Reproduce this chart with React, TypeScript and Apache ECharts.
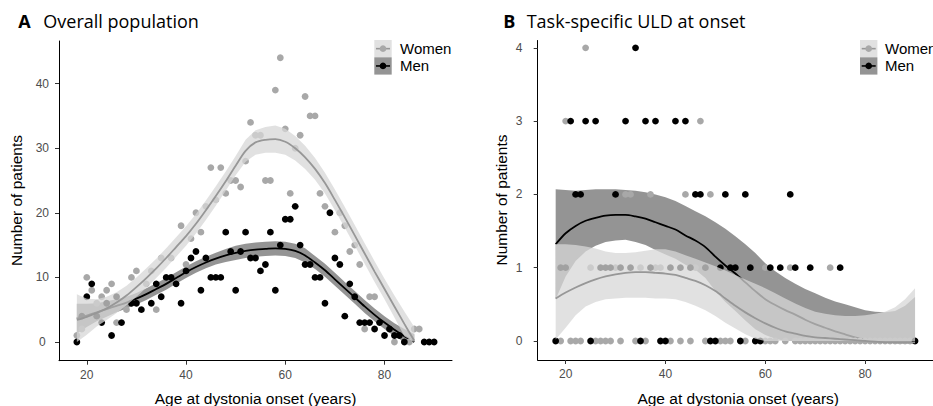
import React, { useEffect, useRef } from 'react';
import * as echarts from 'echarts';

// ---------- Panel A data ----------
const xTicks = [20, 40, 60, 80];
const yTicksA = [0, 10, 20, 30, 40];
const yTicksB = [0, 1, 2, 3, 4];

const womenA: [number, number][] = [
  [18, 1], [19, 2], [20, 10], [21, 8], [22, 6], [23, 7], [24, 8], [25, 9], [26, 3], [28, 5],
  [29, 10], [30, 11], [32, 9], [33, 11], [34, 5], [35, 13], [37, 13], [39, 18], [40, 12], [41, 16],
  [42, 20], [43, 17], [44, 21], [45, 27], [46, 22], [47, 27], [48, 23], [49, 25], [50, 25], [51, 24],
  [52, 28], [53, 34], [54, 32], [55, 32], [56, 25], [57, 25], [58, 39], [59, 44], [60, 33], [61, 23],
  [62, 30], [63, 32], [64, 38], [65, 35], [66, 35], [67, 23], [68, 21], [70, 17], [71, 20], [72, 18],
  [73, 14], [74, 15], [75, 12], [76, 2], [77, 7], [78, 7], [82, 0], [85, 0], [86, 2], [87, 2],
];

const menA: [number, number][] = [
  [18, 0], [19, 4], [20, 7], [21, 9], [22, 4], [23, 3], [24, 6], [25, 1], [26, 7], [27, 3],
  [29, 6], [30, 6], [31, 5], [33, 6], [34, 9], [35, 7], [36, 10], [37, 10], [38, 9], [39, 6],
  [40, 11], [41, 13], [42, 14], [43, 8], [44, 13], [45, 10], [46, 10], [47, 10], [48, 17], [49, 14],
  [50, 8], [51, 14], [52, 17], [53, 13], [54, 13], [55, 11], [56, 12], [57, 17], [58, 8], [59, 15],
  [60, 19], [61, 19], [62, 21], [63, 15], [64, 12], [65, 12], [66, 10], [67, 10], [68, 6], [69, 20],
  [70, 13], [71, 12], [72, 4], [73, 9], [74, 7], [75, 3], [76, 3], [77, 3], [78, 2], [79, 3],
  [80, 1], [81, 2], [82, 1], [83, 1], [84, 0], [88, 0], [89, 0], [90, 0],
];

const fitAgesA = [18, 20, 22, 24, 26, 28, 30, 32, 34, 36, 38, 40, 42, 44, 46, 48, 50, 52, 54, 56,
  58, 60, 62, 64, 66, 68, 70, 72, 74, 76, 78, 80, 82, 84, 86];
const womenFitA = [3.4, 3.9, 4.5, 5.2, 6.1, 7.2, 8.5, 9.9, 11.4, 13.0, 14.7, 16.4, 18.3, 20.4, 22.6, 24.9, 27.3, 29.6, 30.9, 31.3,
  31.4, 31.0, 30.0, 28.6, 26.8, 24.6, 22.0, 19.3, 16.5, 13.7, 10.9, 8.2, 5.5, 2.8, 0.2];
const womenUpperA = [7.4, 6.7, 6.6, 7.0, 7.7, 8.7, 10.0, 11.4, 12.9, 14.5, 16.2, 17.9, 19.8, 21.9, 24.1, 26.4, 28.8, 31.3, 32.8, 33.3,
  33.5, 33.0, 31.9, 30.4, 28.5, 26.2, 23.6, 20.9, 18.1, 15.3, 12.5, 9.8, 7.2, 4.7, 2.3];
const womenLowerA = [0, 1.1, 2.4, 3.4, 4.5, 5.7, 7.0, 8.4, 9.9, 11.5, 13.2, 14.9, 16.8, 18.9, 21.1, 23.4, 25.8, 27.9, 29.0, 29.3,
  29.3, 29.0, 28.1, 26.8, 25.1, 23.0, 20.4, 17.7, 14.9, 12.1, 9.3, 6.6, 3.8, 0.9, 0];
const menFitA = [3.6, 4.1, 4.6, 5.1, 5.6, 6.1, 6.7, 7.4, 8.2, 9.0, 9.9, 10.8, 11.6, 12.3, 12.9, 13.4, 13.8, 14.1, 14.3, 14.4,
  14.5, 14.4, 14.1, 13.4, 12.3, 11.1, 9.7, 8.3, 6.9, 5.5, 4.2, 3.0, 1.9, 0.9, 0];
const menUpperA = [5.9, 5.9, 6.0, 6.3, 6.6, 7.0, 7.6, 8.3, 9.1, 9.9, 10.8, 11.7, 12.5, 13.2, 13.8, 14.4, 14.9, 15.2, 15.4, 15.5,
  15.6, 15.5, 15.2, 14.5, 13.3, 12.1, 10.7, 9.3, 7.9, 6.5, 5.2, 4.0, 2.9, 2.0, 1.2];
const menLowerA = [1.3, 2.3, 3.2, 3.9, 4.6, 5.2, 5.8, 6.5, 7.3, 8.1, 9.0, 9.9, 10.7, 11.4, 12.0, 12.4, 12.7, 13.0, 13.2, 13.3,
  13.4, 13.3, 13.0, 12.3, 11.3, 10.1, 8.7, 7.3, 5.9, 4.5, 3.2, 2.0, 0.9, 0, 0];

// ---------- Panel B data ----------
const womenB: [number, number][] = [
  [24, 4],
  [20, 3], [47, 3],
  [32, 2], [33, 2], [37, 2], [44, 2], [49, 2],
  [25, 1], [30, 1], [35, 1], [38, 1], [39, 1], [46, 1], [60, 1], [65, 1], [73, 1],
  [19, 0], [21, 0], [22, 0], [23, 0], [26, 0], [27, 0], [28, 0], [29, 0], [31, 0], [34, 0], [36, 0],
  [41, 0], [43, 0], [45, 0], [48, 0], [51, 0], [52, 0], [53, 0], [56, 0], [60, 0], [61, 0], [62, 0],
  [64, 0], [66, 0], [67, 0], [68, 0], [69, 0], [70, 0], [71, 0], [72, 0], [73, 0], [74, 0], [75, 0],
  [76, 0], [77, 0], [78, 0], [79, 0], [80, 0], [81, 0], [82, 0], [83, 0], [84, 0], [85, 0], [86, 0],
  [87, 0], [88, 0], [89, 0],
];

const menB: [number, number][] = [
  [34, 4],
  [21, 3], [24, 3], [26, 3], [32, 3], [36, 3], [38, 3], [42, 3], [44, 3],
  [22, 2], [23, 2], [30, 2], [46, 2], [47, 2], [52, 2], [56, 2], [65, 2],
  [19, 1], [20, 1], [27, 1], [28, 1], [29, 1], [31, 1], [33, 1], [37, 1], [41, 1], [43, 1], [45, 1],
  [48, 1], [51, 1], [53, 1], [54, 1], [57, 1], [61, 1], [63, 1], [66, 1], [69, 1], [75, 1],
  [18, 0], [25, 0], [35, 0], [39, 0], [40, 0], [49, 0], [50, 0], [55, 0], [58, 0], [59, 0], [90, 0],
];

const fitAgesB = [18, 20, 22, 24, 26, 28, 30, 32, 34, 36, 38, 40, 42, 44, 46, 48, 50, 52, 54, 56,
  58, 60, 62, 64, 66, 68, 70, 72, 74, 76, 78, 80, 82, 84, 86, 88, 90];
const menFitB = [1.32, 1.47, 1.57, 1.64, 1.68, 1.71, 1.72, 1.72, 1.70, 1.67, 1.62, 1.57, 1.52, 1.44, 1.37, 1.28, 1.15, 1.03, 0.92, 0.80,
  0.68, 0.57, 0.49, 0.42, 0.36, 0.29, 0.23, 0.18, 0.13, 0.09, 0.05, 0.02, 0.00, -0.01, -0.02, -0.02, -0.02];
const menUpperB = [2.07, 2.06, 2.05, 2.06, 2.07, 2.07, 2.07, 2.06, 2.05, 2.03, 2.00, 1.96, 1.91, 1.84, 1.77, 1.70, 1.62, 1.53, 1.43, 1.32,
  1.20, 1.06, 0.95, 0.86, 0.78, 0.71, 0.65, 0.59, 0.54, 0.50, 0.46, 0.42, 0.40, 0.39, 0.41, 0.48, 0.60];
const menLowerB = [0.57, 0.88, 1.09, 1.22, 1.30, 1.35, 1.37, 1.38, 1.35, 1.31, 1.24, 1.18, 1.12, 1.04, 0.97, 0.86, 0.68, 0.53, 0.41, 0.28,
  0.16, 0.08, 0.03, 0, 0, 0, 0, 0, 0, 0, 0, 0, 0, 0, 0, 0, 0];
const womenFitB = [0.58, 0.66, 0.73, 0.79, 0.84, 0.88, 0.91, 0.93, 0.94, 0.94, 0.93, 0.92, 0.90, 0.86, 0.82, 0.76, 0.68, 0.58, 0.48, 0.39,
  0.31, 0.24, 0.18, 0.13, 0.10, 0.07, 0.05, 0.04, 0.03, 0.02, 0.01, 0.00, -0.01, -0.02, -0.02, -0.02, -0.02];
const womenUpperB = [1.32, 1.32, 1.31, 1.29, 1.26, 1.22, 1.20, 1.20, 1.21, 1.23, 1.25, 1.25, 1.22, 1.17, 1.12, 1.07, 1.02, 0.96, 0.90, 0.84,
  0.78, 0.72, 0.65, 0.58, 0.51, 0.45, 0.40, 0.37, 0.35, 0.34, 0.34, 0.35, 0.37, 0.40, 0.46, 0.57, 0.72];
const womenLowerB = [0.02, 0.18, 0.35, 0.47, 0.53, 0.57, 0.58, 0.59, 0.59, 0.59, 0.58, 0.58, 0.57, 0.53, 0.48, 0.42, 0.34, 0.25, 0.17, 0.09,
  0.03, 0, 0, 0, 0, 0, 0, 0, 0, 0, 0, 0, 0, 0, 0, 0, 0];

// ---------- styling ----------
const FONT = '"Liberation Sans", Arial, sans-serif';
const TITLE_FONT = '"Open Sans", sans-serif';
const WOMEN_POINT = '#a8a8a8';
const WOMEN_LINE = '#979797';
const WOMEN_BAND = 'rgba(215,215,215,0.75)';
const MEN_BAND = 'rgba(0,0,0,0.42)';

function band(gi: number, ages: number[], upper: number[], lower: number[], fill: string, z: number) {
  return {
    type: 'custom',
    xAxisIndex: gi,
    yAxisIndex: gi,
    z,
    silent: true,
    clip: true,
    data: [[ages[0], lower[0]]],
    renderItem: (_params: any, api: any) => {
      const pts: number[][] = [];
      for (let i = 0; i < ages.length; i++) pts.push(api.coord([ages[i], upper[i]]));
      for (let i = ages.length - 1; i >= 0; i--) pts.push(api.coord([ages[i], lower[i]]));
      return { type: 'polygon', shape: { points: pts }, style: { fill } };
    },
  };
}

function fitLine(gi: number, ages: number[], vals: number[], color: string, z: number) {
  return {
    type: 'line',
    xAxisIndex: gi,
    yAxisIndex: gi,
    z,
    silent: true,
    showSymbol: false,
    smooth: 0.3,
    clip: true,
    data: ages.map((a, i) => [a, vals[i]]),
    lineStyle: { color, width: 1.8 },
  };
}

function points(gi: number, data: [number, number][], color: string, z: number) {
  return {
    type: 'scatter',
    xAxisIndex: gi,
    yAxisIndex: gi,
    z,
    silent: true,
    symbolSize: 6.8,
    data,
    itemStyle: { color, opacity: 1 },
  };
}

function xAxis(gi: number) {
  return {
    type: 'value',
    gridIndex: gi,
    min: 14.4,
    max: 93.6,
    axisLine: { show: true, onZero: false, lineStyle: { color: '#000', width: 1 } },
    axisTick: { show: true, length: 4, lineStyle: { color: '#333', width: 1 }, customValues: xTicks },
    axisLabel: { show: true, customValues: xTicks, color: '#4d4d4d', fontSize: 12, fontFamily: FONT, margin: 8 },
    splitLine: { show: false },
  };
}

function yAxis(gi: number, min: number, max: number, ticks: number[], margin: number) {
  return {
    type: 'value',
    gridIndex: gi,
    min,
    max,
    axisLine: { show: true, onZero: false, lineStyle: { color: '#000', width: 1 } },
    axisTick: { show: true, length: 4, lineStyle: { color: '#333', width: 1 }, customValues: ticks },
    axisLabel: { show: true, customValues: ticks, color: '#4d4d4d', fontSize: 12, fontFamily: FONT, margin, align: 'center' },
    splitLine: { show: false },
  };
}

function legend(keyX: number, textX: number) {
  const w = 17.4;
  const h = 17.3;
  const y1 = 40;
  const y2 = 57.3;
  const els: any[] = [
    { type: 'rect', shape: { x: keyX, y: y1, width: w, height: h }, style: { fill: '#e1e1e1' } },
    { type: 'line', shape: { x1: keyX + 1.7, y1: y1 + h / 2, x2: keyX + w - 1.7, y2: y1 + h / 2 }, style: { stroke: WOMEN_LINE, lineWidth: 1.6 } },
    { type: 'circle', shape: { cx: keyX + w / 2, cy: y1 + h / 2, r: 3.3 }, style: { fill: WOMEN_POINT } },
    { type: 'rect', shape: { x: keyX, y: y2, width: w, height: h }, style: { fill: '#949494' } },
    { type: 'line', shape: { x1: keyX + 1.7, y1: y2 + h / 2, x2: keyX + w - 1.7, y2: y2 + h / 2 }, style: { stroke: '#000', lineWidth: 1.6 } },
    { type: 'circle', shape: { cx: keyX + w / 2, cy: y2 + h / 2, r: 3.3 }, style: { fill: '#000' } },
    { type: 'text', x: textX, y: y1 + h / 2, style: { text: 'Women', fontSize: 15, fontFamily: FONT, fill: '#000', align: 'left', verticalAlign: 'middle' } },
    { type: 'text', x: textX, y: y2 + h / 2, style: { text: 'Men', fontSize: 15, fontFamily: FONT, fill: '#000', align: 'left', verticalAlign: 'middle' } },
  ];
  return els;
}

function txt(x: number, y: number, text: string, opts: any = {}) {
  return {
    type: 'text',
    x,
    y,
    rotation: opts.rotation || 0,
    style: {
      text,
      fontSize: opts.fontSize || 15.5,
      fontFamily: opts.fontFamily || FONT,
      fontWeight: opts.fontWeight || 'normal',
      fill: '#000',
      align: opts.align || 'center',
      verticalAlign: 'middle',
    },
  };
}

export default function App() {
  const ref = useRef<HTMLDivElement>(null);
  useEffect(() => {
    if (!ref.current) return;
    const chart = echarts.init(ref.current, undefined, { renderer: 'svg' });
    const option: any = {
      animation: false,
      backgroundColor: '#ffffff',
      grid: [
        { left: 59, top: 41, width: 393, height: 319.7 },
        { left: 537.7, top: 40.5, width: 401, height: 319.5 },
      ],
      xAxis: [xAxis(0), xAxis(1)],
      yAxis: [yAxis(0, -2.9, 46.6, yTicksA, 16.7), yAxis(1, -0.26, 4.1, yTicksB, 18.7)],
      series: [
        band(0, fitAgesA, menUpperA, menLowerA, MEN_BAND, 1),
        fitLine(0, fitAgesA, menFitA, '#000', 2),
        points(0, womenA, WOMEN_POINT, 3),
        points(0, menA, '#000', 4),
        band(0, fitAgesA, womenUpperA, womenLowerA, WOMEN_BAND, 5),
        fitLine(0, fitAgesA, womenFitA, WOMEN_LINE, 6),

        band(1, fitAgesB, menUpperB, menLowerB, MEN_BAND, 1),
        fitLine(1, fitAgesB, menFitB, '#000', 2),
        points(1, womenB, WOMEN_POINT, 3),
        points(1, menB, '#000', 4),
        band(1, fitAgesB, womenUpperB, womenLowerB, WOMEN_BAND, 5),
        fitLine(1, fitAgesB, womenFitB, WOMEN_LINE, 6),
      ],
      graphic: [
        txt(18.3, 21, 'A', { fontFamily: TITLE_FONT, fontSize: 18, fontWeight: 'bold', align: 'left' }),
        txt(43.3, 21, 'Overall population', { fontFamily: TITLE_FONT, fontSize: 18, align: 'left' }),
        txt(503.3, 21, 'B', { fontFamily: TITLE_FONT, fontSize: 18, fontWeight: 'bold', align: 'left' }),
        txt(526.7, 21, 'Task-specific ULD at onset', { fontFamily: TITLE_FONT, fontSize: 18, align: 'left' }),
        txt(255.5, 398, 'Age at dystonia onset (years)'),
        txt(738.2, 398, 'Age at dystonia onset (years)'),
        txt(16, 200.5, 'Number of patients', { rotation: Math.PI / 2 }),
        txt(501, 200, 'Number of patients', { rotation: Math.PI / 2 }),
        ...legend(374.3, 400),
        ...legend(860, 885),
      ],
    };
    chart.setOption(option);
    return () => chart.dispose();
  }, []);
  return (
    <div
      ref={ref}
      style={{ position: 'absolute', left: 0, top: 0, width: 933, height: 406, background: '#fff' }}
    />
  );
}
